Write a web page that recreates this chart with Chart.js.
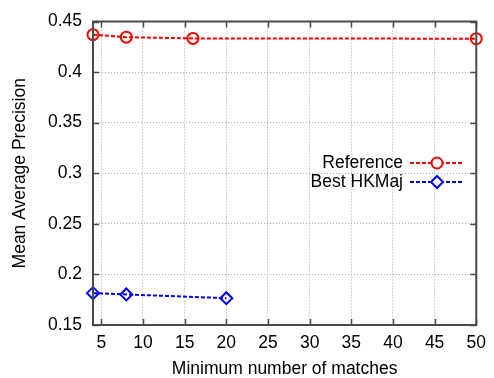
<!DOCTYPE html>
<html>
<head>
<meta charset="utf-8">
<script src="https://cdn.jsdelivr.net/npm/chart.js@4/dist/chart.umd.min.js"></script>
<style>
  html, body { margin: 0; padding: 0; background: #fff; }
  #wrap { width: 494px; height: 378px; }
</style>
</head>
<body>
<div id="wrap"><canvas id="myChart"></canvas></div>
<script>
"use strict";

// data
const refX = [4, 8, 16, 50];
const refY = [0.437, 0.4345, 0.4333, 0.433];
const hkX = [4, 8, 20];
const hkY = [0.1815, 0.1802, 0.1765];
const xTicks = [5, 10, 15, 20, 25, 30, 35, 40, 45, 50];
const yTicks = [0.15, 0.2, 0.25, 0.3, 0.35, 0.4, 0.45];
const yTickLabels = ["0.15", "0.2", "0.25", "0.3", "0.35", "0.4", "0.45"];

const FONT = "'Liberation Sans', Arial, sans-serif";
const frameColor = "#4a4a4a";

function toPoints(xs, ys) {
  return xs.map((x, i) => ({ x: x, y: ys[i] }));
}

// gnuplot-style frame, inward ticks and the key inside the plot
const framePlugin = {
  id: "frame",
  afterDatasetsDraw(chart) {
    const ctx = chart.ctx;
    const a = chart.chartArea;
    const xs = chart.scales.x;
    const ys = chart.scales.y;
    ctx.save();
    ctx.strokeStyle = frameColor;
    ctx.lineWidth = 1.5;
    ctx.setLineDash([]);
    ctx.beginPath();
    xTicks.forEach((t) => {
      const px = Math.round(xs.getPixelForValue(t)) + 0.5;
      ctx.moveTo(px, a.bottom);
      ctx.lineTo(px, a.bottom - 6);
      ctx.moveTo(px, a.top);
      ctx.lineTo(px, a.top + 6);
    });
    yTicks.forEach((t) => {
      const py = Math.round(ys.getPixelForValue(t)) + 0.5;
      ctx.moveTo(a.left, py);
      ctx.lineTo(a.left + 6, py);
      ctx.moveTo(a.right, py);
      ctx.lineTo(a.right - 6, py);
    });
    ctx.stroke();
    ctx.lineWidth = 2;
    ctx.strokeRect(a.left, a.top, a.right - a.left, a.bottom - a.top);
    ctx.restore();
  },
  afterDraw(chart) {
    const ctx = chart.ctx;
    ctx.save();
    ctx.font = "17.5px " + FONT;
    ctx.textAlign = "right";
    ctx.textBaseline = "middle";
    chart.data.datasets.forEach((ds, i) => {
      const y = 163 + i * 19;
      ctx.fillStyle = "#000";
      ctx.fillText(ds.label, 403, y);
      ctx.strokeStyle = ds.borderColor;
      ctx.lineWidth = 2;
      ctx.setLineDash(ds.borderDash);
      ctx.beginPath();
      ctx.moveTo(410, y);
      ctx.lineTo(464, y);
      ctx.stroke();
      ctx.setLineDash([]);
      ctx.fillStyle = "#fff";
      Chart.helpers.drawPoint(ctx, {
        pointStyle: ds.pointStyle,
        radius: ds.pointRadius,
        borderWidth: ds.pointBorderWidth,
        rotation: 0,
      }, 437, y);
    });
    ctx.restore();
  },
};

new Chart(document.getElementById("myChart"), {
  type: "line",
  data: {
    datasets: [
      {
        label: "Reference",
        data: toPoints(refX, refY),
        borderColor: "#ff0000",
        backgroundColor: "#ff0000",
        borderWidth: 2,
        borderDash: [4, 2],
        pointStyle: "circle",
        pointRadius: 5.5,
        pointBorderWidth: 2,
        pointBackgroundColor: "rgba(0,0,0,0)",
        clip: false,
      },
      {
        label: "Best HKMaj",
        data: toPoints(hkX, hkY),
        borderColor: "#0000ff",
        backgroundColor: "#0000ff",
        borderWidth: 2,
        borderDash: [4, 2],
        pointStyle: "rectRot",
        pointRadius: 6,
        pointBorderWidth: 2,
        pointBackgroundColor: "rgba(0,0,0,0)",
        clip: false,
      },
    ],
  },
  options: {
    responsive: true,
    maintainAspectRatio: false,
    animation: false,
    layout: { padding: { top: 19, right: 9, left: 0, bottom: 0 } },
    plugins: {
      legend: { display: false },
      tooltip: { enabled: false },
    },
    scales: {
      x: {
        type: "linear",
        min: 4,
        max: 50,
        afterBuildTicks: (scale) => {
          scale.ticks = xTicks.map((v) => ({ value: v }));
        },
        afterFit: (scale) => {
          scale.height = 53;
        },
        grid: { color: "#aaa", lineWidth: 1, drawTicks: false },
        border: { display: false, dash: [1, 2] },
        ticks: {
          color: "#000",
          padding: 8,
          maxRotation: 0,
          font: { family: FONT, size: 17.5 },
        },
        title: {
          display: true,
          text: "Minimum number of matches",
          color: "#000",
          font: { family: FONT, size: 17.5, lineHeight: 1 },
          padding: { top: 0, bottom: 0 },
        },
      },
      y: {
        min: 0.15,
        max: 0.45,
        afterBuildTicks: (scale) => {
          scale.ticks = yTicks.map((v) => ({ value: v }));
        },
        afterFit: (scale) => {
          scale.width = 93;
        },
        grid: { color: "#aaa", lineWidth: 1, drawTicks: false },
        border: { display: false, dash: [1, 2] },
        ticks: {
          color: "#000",
          padding: 11,
          font: { family: FONT, size: 17.5 },
          callback: (v) => yTickLabels[yTicks.findIndex((t) => Math.abs(t - v) < 1e-9)],
        },
        title: {
          display: true,
          text: "Mean Average Precision",
          color: "#000",
          font: { family: FONT, size: 17.5 },
          padding: { top: 10, bottom: 0 },
        },
      },
    },
  },
  plugins: [framePlugin],
});
</script>
</body>
</html>
